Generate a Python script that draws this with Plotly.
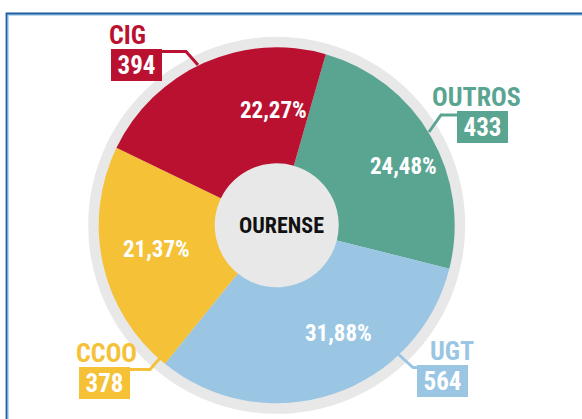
import plotly.graph_objects as go

# ---- data ----
categories = ["OUTROS", "UGT", "CCOO", "CIG"]
values = [433, 564, 378, 394]
colors = ["#5AA592", "#9AC6E4", "#F4C137", "#BA1130"]
center_label = "OURENSE"

W, H = 582, 419
CX, CY = 276.7, 225.3
R_PIE = 178.0
R_RING = 188.5
R_HOLE = 62.0
FONT = "Roboto, Open Sans, DejaVu Sans, sans-serif"


def cond(s):
    return f"<span style='font-stretch:condensed'>{s}</span>"


def px(x):
    return x / W


def py(y):
    return 1 - y / H


fig = go.Figure()

fig.add_trace(go.Pie(
    labels=categories,
    values=values,
    sort=False,
    direction="clockwise",
    rotation=16,
    hole=R_HOLE / R_PIE,
    marker=dict(colors=colors, line=dict(width=0)),
    textinfo="none",
    showlegend=False,
    hoverinfo="label+value+percent",
    domain=dict(x=[px(CX - R_PIE), px(CX + R_PIE)],
                y=[py(CY + R_PIE), py(CY - R_PIE)]),
))

shapes = []
# grey ring (behind pie; also fills the hole)
shapes.append(dict(type="circle", xref="paper", yref="paper", layer="below",
                   x0=px(CX - R_RING), x1=px(CX + R_RING),
                   y0=py(CY + R_RING), y1=py(CY - R_RING),
                   fillcolor="#E8E8E8", line=dict(width=0)))
# frame
shapes.append(dict(type="path", xref="paper", yref="paper", layer="above",
                   path=f"M {px(8)} {py(430)} L {px(8)} {py(15)} L {px(600)} {py(15)}",
                   line=dict(color="#A9CDEA", width=1.5)))
shapes.append(dict(type="path", xref="paper", yref="paper", layer="above",
                   path=f"M {px(6.5)} {py(430)} L {px(6.5)} {py(13.5)} L {px(600)} {py(13.5)}",
                   line=dict(color="#1C5E9F", width=1.8)))

# connectors
connectors = [
    [(457, 115), (441, 115), (429, 132)],
    [(418, 367.5), (413, 367.5), (397, 353)],
    [(128, 369.5), (150, 369.5), (160, 358)],
    [(160, 51.5), (186, 51.5), (198, 65)],
]
for pts, col in zip(connectors, colors):
    path = "M " + " L ".join(f"{px(x)} {py(y)}" for x, y in pts)
    shapes.append(dict(type="path", xref="paper", yref="paper", layer="above",
                       path=path, line=dict(color=col, width=3)))

annotations = []
# center label
annotations.append(dict(x=px(281), y=py(225), xref="paper", yref="paper",
                        xanchor="center", yanchor="middle",
                        text=cond(center_label), showarrow=False,
                        font=dict(family=FONT, size=22, color="#111111", weight="bold")))

# percentage labels inside slices
total = sum(values)
pct_pos = [(403, 167), (338, 333), (156, 250), (273, 110)]
for val, (x, y) in zip(values, pct_pos):
    txt = f"{100 * val / total:.2f}%".replace(".", ",")
    annotations.append(dict(x=px(x), y=py(y), xref="paper", yref="paper",
                            xanchor="center", yanchor="middle",
                            text=cond(txt), showarrow=False,
                            font=dict(family=FONT, size=23, color="white", weight="bold")))

name_pos = [(476, 97), (451.5, 350.5), (106, 352.5), (127, 35)]
box_pos = [(482.3, 127.3), (442.2, 381), (104.5, 383), (136.3, 65)]
for name, val, col, (nx, ny), (bx, by) in zip(categories, values, colors, name_pos, box_pos):
    annotations.append(dict(x=px(nx), y=py(ny), xref="paper", yref="paper",
                            xanchor="center", yanchor="middle",
                            text=cond(name), showarrow=False,
                            font=dict(family=FONT, size=26, color=col, weight="bold")))
    annotations.append(dict(x=px(bx), y=py(by), xref="paper", yref="paper",
                            xanchor="center", yanchor="middle",
                            text=cond(str(val)), showarrow=False,
                            width=51, height=32, bgcolor=col, borderpad=0, borderwidth=0,
                            font=dict(family=FONT, size=25, color="white", weight="bold")))

fig.update_layout(
    width=W, height=H,
    margin=dict(l=0, r=0, t=0, b=0),
    paper_bgcolor="white",
    plot_bgcolor="white",
    shapes=shapes,
    annotations=annotations,
)

fig.write_html("out.html", config={"displayModeBar": False},
               post_script="document.body.style.margin='0';")
